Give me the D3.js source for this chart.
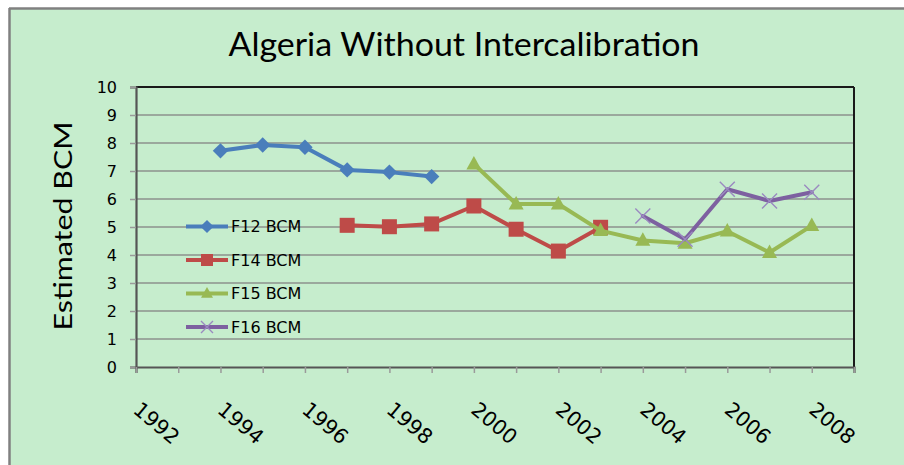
<!DOCTYPE html>
<html>
<head>
<meta charset="utf-8">
<script src="https://cdn.jsdelivr.net/npm/d3@7/dist/d3.min.js"></script>
<style>
  html, body { margin: 0; padding: 0; background: #ffffff; }
  svg { display: block; }
</style>
</head>
<body>
<svg id="chart" width="904" height="465"></svg>
<script>
// ---- data ----
const years = d3.range(1992, 2010);            // category slots on the axis
const yearLabels = [1992, 1994, 1996, 1998, 2000, 2002, 2004, 2006, 2008];
const yTicks = [0, 1, 2, 3, 4, 5, 6, 7, 8, 9, 10];

const f12Years = [1994, 1995, 1996, 1997, 1998, 1999];
const f12Values = [7.72, 7.93, 7.85, 7.04, 6.96, 6.80];

const f14Years = [1997, 1998, 1999, 2000, 2001, 2002, 2003];
const f14Values = [5.06, 5.01, 5.11, 5.75, 4.92, 4.14, 4.99];

const f15Years = [2000, 2001, 2002, 2003, 2004, 2005, 2006, 2007, 2008];
const f15Values = [7.25, 5.82, 5.82, 4.87, 4.52, 4.42, 4.85, 4.09, 5.05];

const f16Years = [2004, 2005, 2006, 2007, 2008];
const f16Values = [5.39, 4.56, 6.35, 5.93, 6.24];

const seriesNames = ["F12 BCM", "F14 BCM", "F15 BCM", "F16 BCM"];
const titleText = "Algeria Without Intercalibration";
const yTitleText = "Estimated BCM";

// ---- layout ----
const svg = d3.select("#chart");
const W = 904, H = 465;
const plot = { left: 136, right: 854, top: 87, bottom: 367 };

const colors = ["#4A7EBB", "#BE4B48", "#98B954", "#7D60A0"];
const bg = "#C6EDCD";

// chart background + outer border
svg.append("rect").attr("x", 9).attr("y", 8).attr("width", W - 9).attr("height", H - 8)
  .attr("fill", bg);
svg.append("line").attr("x1", 9).attr("x2", W).attr("y1", 8.5).attr("y2", 8.5)
  .attr("stroke", "#808080").attr("stroke-width", 2.5);
svg.append("line").attr("x1", 9.5).attr("x2", 9.5).attr("y1", 8).attr("y2", H)
  .attr("stroke", "#808080").attr("stroke-width", 2.5);

const x = d3.scaleLinear().domain([1992, 2009]).range([plot.left, plot.right]);
const y = d3.scaleLinear().domain([0, 10]).range([plot.bottom, plot.top]);

// gridlines
svg.append("g").selectAll("line").data(yTicks.filter(v => v > 0 && v < 10)).join("line")
  .attr("x1", plot.left).attr("x2", plot.right)
  .attr("y1", d => y(d)).attr("y2", d => y(d))
  .attr("stroke", "#8C918C").attr("stroke-width", 1.5);

// plot border (top/right black)
svg.append("line").attr("x1", plot.left).attr("x2", plot.right)
  .attr("y1", plot.top).attr("y2", plot.top).attr("stroke", "#1a1a1a").attr("stroke-width", 2);
svg.append("line").attr("x1", plot.right).attr("x2", plot.right)
  .attr("y1", plot.top).attr("y2", plot.bottom).attr("stroke", "#1a1a1a").attr("stroke-width", 2);

// y axis
const yAxis = d3.axisLeft(y).tickValues(yTicks).tickSize(6).tickPadding(13)
  .tickFormat(d3.format("d"));
const gy = svg.append("g").attr("transform", `translate(${plot.left},0)`).call(yAxis);
gy.select(".domain").attr("stroke", "#555555").attr("stroke-width", 2.2);
gy.selectAll(".tick line").attr("stroke", "#9a9a9a").attr("stroke-width", 1.5);
gy.selectAll(".tick text").attr("font-family", "DejaVu Sans, Verdana, sans-serif")
  .attr("font-size", 16).attr("fill", "#000");

// x axis
const xAxis = d3.axisBottom(x).tickValues(years).tickSize(6)
  .tickFormat(d => yearLabels.includes(d) ? String(d) : "");
const gx = svg.append("g").attr("transform", `translate(0,${plot.bottom})`).call(xAxis);
gx.select(".domain").attr("stroke", "#555555").attr("stroke-width", 2.2);
gx.selectAll(".tick line").attr("stroke", "#9a9a9a").attr("stroke-width", 1.5);
gx.selectAll(".tick text")
  .attr("font-family", "DejaVu Sans, Verdana, sans-serif")
  .attr("font-size", 20.5).attr("fill", "#000")
  .attr("text-anchor", "middle").attr("dy", "0.35em").attr("y", 0)
  .attr("transform", "translate(20,56) rotate(40)");

// series
const series = [
  { years: f12Years, values: f12Values, shape: "diamond" },
  { years: f14Years, values: f14Values, shape: "square" },
  { years: f15Years, values: f15Values, shape: "triangle" },
  { years: f16Years, values: f16Values, shape: "cross" }
];

function drawMarker(g, shape, color, cx, cy, s) {
  if (shape === "diamond") {
    g.append("path").attr("d", `M${cx},${cy - s * 0.55}L${cx + s * 0.55},${cy}L${cx},${cy + s * 0.55}L${cx - s * 0.55},${cy}Z`)
      .attr("fill", color);
  } else if (shape === "square") {
    g.append("rect").attr("x", cx - s / 2).attr("y", cy - s / 2).attr("width", s).attr("height", s)
      .attr("fill", color);
  } else if (shape === "triangle") {
    const h = s * 0.9;
    g.append("path").attr("d", `M${cx},${cy - h * 0.6}L${cx + s / 2},${cy + h * 0.4}L${cx - s / 2},${cy + h * 0.4}Z`)
      .attr("fill", color);
  } else {
    const r = s / 2;
    g.append("path").attr("d", `M${cx - r},${cy - r}L${cx + r},${cy + r}M${cx - r},${cy + r}L${cx + r},${cy - r}`)
      .attr("stroke", "#9A8AC0").attr("stroke-width", 1.4).attr("fill", "none");
  }
}

const line = d3.line().x(d => x(d[0])).y(d => y(d[1]));
series.forEach((s, i) => {
  const pts = s.years.map((yr, j) => [yr, s.values[j]]);
  const g = svg.append("g");
  g.append("path").datum(pts).attr("d", line)
    .attr("fill", "none").attr("stroke", colors[i]).attr("stroke-width", 4)
    .attr("stroke-linejoin", "round").attr("stroke-linecap", "round");
  const sz = s.shape === "diamond" ? 14 : 15;
  pts.forEach(p => drawMarker(g, s.shape, colors[i], x(p[0]), y(p[1]), sz));
});

// legend
const legendY = [226.5, 260, 293.5, 327];
series.forEach((s, i) => {
  const g = svg.append("g");
  g.append("line").attr("x1", 186).attr("x2", 228).attr("y1", legendY[i]).attr("y2", legendY[i])
    .attr("stroke", colors[i]).attr("stroke-width", 4);
  drawMarker(g, s.shape, colors[i], 207, legendY[i], s.shape === "diamond" ? 12 : 12);
  g.append("text").attr("x", 231).attr("y", legendY[i]).attr("dy", "0.36em")
    .attr("font-family", "DejaVu Sans, Verdana, sans-serif").attr("font-size", 16)
    .attr("fill", "#000").text(seriesNames[i]);
});

// title
svg.append("text").attr("x", 464).attr("y", 56).attr("text-anchor", "middle")
  .attr("font-family", "Lato, sans-serif").attr("font-size", 32)
  .attr("textLength", 471).attr("lengthAdjust", "spacingAndGlyphs")
  .attr("fill", "#000").text(titleText);

// y title
svg.append("text").attr("transform", "translate(72,226) rotate(-90)")
  .attr("text-anchor", "middle")
  .attr("font-family", "Lato, sans-serif").attr("font-size", 25)
  .attr("textLength", 209).attr("lengthAdjust", "spacingAndGlyphs")
  .attr("fill", "#000").text(yTitleText);
</script>
</body>
</html>
